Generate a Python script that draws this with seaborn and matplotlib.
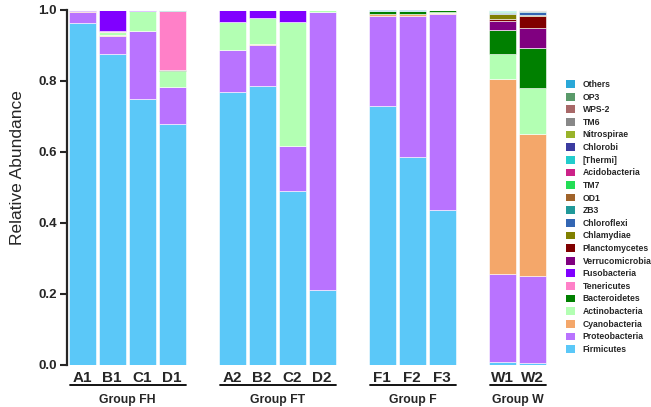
import numpy as np
import pandas as pd
import seaborn as sns
import matplotlib
matplotlib.use("Agg")
import matplotlib.pyplot as plt
from matplotlib.patches import Patch
import matplotlib.transforms as mtransforms

samples = ["A1", "B1", "C1", "D1", "A2", "B2", "C2", "D2", "F1", "F2", "F3", "W1", "W2"]
sample_pos = [0, 1, 2, 3, 5, 6, 7, 8, 10, 11, 12, 14, 15]
groups = ["Group FH", "Group FT", "Group F", "Group W"]
group_members = [["A1", "B1", "C1", "D1"], ["A2", "B2", "C2", "D2"], ["F1", "F2", "F3"], ["W1", "W2"]]

# legend order (top to bottom)
phyla = ["Others", "OP3", "WPS-2", "TM6", "Nitrospirae", "Chlorobi", "[Thermi]",
         "Acidobacteria", "TM7", "OD1", "ZB3", "Chloroflexi", "Chlamydiae",
         "Planctomycetes", "Verrucomicrobia", "Fusobacteria", "Tenericutes",
         "Bacteroidetes", "Actinobacteria", "Cyanobacteria", "Proteobacteria", "Firmicutes"]
colors = ["#2AA8D8", "#5A9A6A", "#A86868", "#888888", "#99B32A", "#3B3BA0", "#22CCCC",
          "#CC2288", "#22DD55", "#A0632A", "#209999", "#3366B3", "#808000",
          "#800000", "#800080", "#8000FF", "#FF80C8",
          "#008000", "#B3FFB3", "#F4A76A", "#B973FF", "#5BC8F8"]

#                 A1     B1     C1     D1     A2     B2     C2     D2     F1     F2     F3     W1     W2
Firmicutes     = [0.963, 0.877, 0.748, 0.678, 0.770, 0.787, 0.490, 0.210, 0.728, 0.585, 0.435, 0.006, 0.004]
Proteobacteria = [0.032, 0.049, 0.194, 0.104, 0.117, 0.114, 0.125, 0.785, 0.255, 0.398, 0.555, 0.249, 0.246]
Cyanobacteria  = [0.001, 0.004, 0.000, 0.001, 0.000, 0.004, 0.002, 0.000, 0.005, 0.005, 0.001, 0.549, 0.400]
Actinobacteria = [0.001, 0.007, 0.056, 0.045, 0.080, 0.073, 0.350, 0.004, 0.002, 0.002, 0.004, 0.072, 0.129]
Bacteroidetes  = [0.001, 0.001, 0.000, 0.003, 0.000, 0.000, 0.000, 0.000, 0.008, 0.008, 0.005, 0.067, 0.115]
Tenericutes    = [0.000, 0.004, 0.000, 0.166, 0.000, 0.000, 0.000, 0.000, 0.000, 0.000, 0.000, 0.000, 0.000]
Fusobacteria   = [0.002, 0.058, 0.002, 0.000, 0.033, 0.022, 0.033, 0.000, 0.000, 0.000, 0.000, 0.001, 0.000]
Verrucomicrobia= [0.000, 0.000, 0.000, 0.000, 0.000, 0.000, 0.000, 0.000, 0.000, 0.000, 0.000, 0.025, 0.054]
Planctomycetes = [0.000, 0.000, 0.000, 0.000, 0.000, 0.000, 0.000, 0.000, 0.000, 0.000, 0.000, 0.007, 0.036]
Chlamydiae     = [0.000, 0.000, 0.000, 0.000, 0.000, 0.000, 0.000, 0.000, 0.000, 0.000, 0.000, 0.013, 0.003]
Chloroflexi    = [0.000, 0.000, 0.000, 0.000, 0.000, 0.000, 0.000, 0.000, 0.000, 0.000, 0.000, 0.002, 0.006]
ZB3            = [0.000, 0.000, 0.000, 0.003, 0.000, 0.000, 0.000, 0.000, 0.000, 0.000, 0.000, 0.002, 0.003]
OD1            = [0.000, 0.000, 0.000, 0.000, 0.000, 0.000, 0.000, 0.000, 0.000, 0.000, 0.000, 0.001, 0.000]
TM7            = [0.000, 0.000, 0.000, 0.000, 0.000, 0.000, 0.000, 0.000, 0.000, 0.000, 0.000, 0.002, 0.000]
Acidobacteria  = [0.000, 0.000, 0.000, 0.000, 0.000, 0.000, 0.000, 0.000, 0.000, 0.000, 0.000, 0.002, 0.000]
Thermi         = [0.000, 0.000, 0.000, 0.000, 0.000, 0.000, 0.000, 0.000, 0.000, 0.000, 0.000, 0.001, 0.000]
Chlorobi       = [0.000] * 13
Nitrospirae    = [0.000] * 13
TM6            = [0.000, 0.000, 0.000, 0.000, 0.000, 0.000, 0.000, 0.000, 0.000, 0.000, 0.000, 0.000, 0.003]
WPS2           = [0.000, 0.000, 0.000, 0.000, 0.000, 0.000, 0.000, 0.000, 0.000, 0.000, 0.000, 0.001, 0.000]
OP3            = [0.000] * 13
Others         = [0.000, 0.000, 0.000, 0.000, 0.000, 0.000, 0.000, 0.001, 0.002, 0.002, 0.000, 0.000, 0.001]

values = {
    "Others": Others, "OP3": OP3, "WPS-2": WPS2, "TM6": TM6, "Nitrospirae": Nitrospirae,
    "Chlorobi": Chlorobi, "[Thermi]": Thermi, "Acidobacteria": Acidobacteria, "TM7": TM7,
    "OD1": OD1, "ZB3": ZB3, "Chloroflexi": Chloroflexi, "Chlamydiae": Chlamydiae,
    "Planctomycetes": Planctomycetes, "Verrucomicrobia": Verrucomicrobia,
    "Fusobacteria": Fusobacteria, "Tenericutes": Tenericutes, "Bacteroidetes": Bacteroidetes,
    "Actinobacteria": Actinobacteria, "Cyanobacteria": Cyanobacteria,
    "Proteobacteria": Proteobacteria, "Firmicutes": Firmicutes,
}

rows = []
for ph in phyla:
    for s, p, v in zip(samples, sample_pos, values[ph]):
        rows.append({"pos": p, "sample": s, "phylum": ph, "abund": v})
df = pd.DataFrame(rows)

sns.set_style("ticks")
plt.rcParams["font.family"] = ["Liberation Sans", "DejaVu Sans"]

fig = plt.figure(figsize=(6.51, 4.07), dpi=100)
ax = fig.add_axes([67 / 651, 42.5 / 407, 481.5 / 651, 354.5 / 407])

sns.histplot(data=df, x="pos", weights="abund", hue="phylum", hue_order=phyla,
             palette=colors, multiple="stack", discrete=True, shrink=0.9,
             alpha=1, edgecolor="white", linewidth=0.4, legend=False, ax=ax)

ax.set_xlim(-0.5, 15.55)
ax.set_ylim(0, 1.0)
ax.set_yticks([0, 0.2, 0.4, 0.6, 0.8, 1.0])
ax.set_yticklabels(["0.0", "0.2", "0.4", "0.6", "0.8", "1.0"], fontweight="bold", fontsize=9.5)
ax.set_xticks(sample_pos)
ax.set_xticklabels(samples, fontweight="bold", fontsize=11)
ax.tick_params(axis="x", length=0, pad=4.5)
ax.tick_params(axis="y", length=5.2, width=1.5, pad=2)
ax.set_xlabel("")
ax.set_ylabel("Relative Abundance", fontsize=12.5)
ax.yaxis.set_label_coords(-0.088, 0.556)
for sp in ["top", "right", "bottom"]:
    ax.spines[sp].set_visible(False)
ax.spines["left"].set_linewidth(1.6)

trans = mtransforms.blended_transform_factory(ax.transData, ax.transAxes)
pos_of = dict(zip(samples, sample_pos))
for g, mem in zip(groups, group_members):
    x0 = pos_of[mem[0]] - 0.4
    x1 = pos_of[mem[-1]] + 0.45
    ax.plot([x0, x1], [-0.058, -0.058], color="black", lw=1.3, transform=trans, clip_on=False)
    ax.text((x0 + x1) / 2, -0.082, g, transform=trans, ha="center", va="top",
            fontsize=8.8, fontweight="bold")

handles = [Patch(facecolor=c, edgecolor="none") for c in colors]
leg = fig.legend(handles, phyla, loc="upper left", bbox_to_anchor=(566 / 651, 1 - 80 / 407),
                 frameon=False, prop={"size": 6.2, "weight": "bold"}, handlelength=1.0,
                 handleheight=1.0, labelspacing=0.42, handletextpad=0.95, borderpad=0,
                 borderaxespad=0)

fig.savefig("out.png", dpi=100)
